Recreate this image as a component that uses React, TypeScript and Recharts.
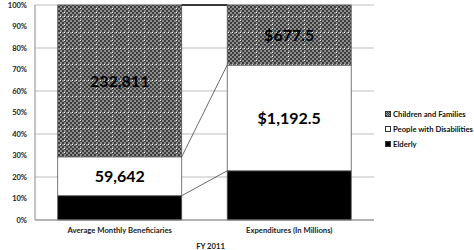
import { BarChart, Bar, XAxis, YAxis, CartesianGrid, LabelList } from 'recharts'

const CATEGORIES = ['Average Monthly Beneficiaries', 'Expenditures (In Millions)']
const ELDERLY = [37260, 555]
const DISABILITIES = [59642, 1192.5]
const CHILDREN = [232811, 677.5]
const Y_TICKS = [0, 0.1, 0.2, 0.3, 0.4, 0.5, 0.6, 0.7, 0.8, 0.9, 1]

const FONT = 'Lato, "Open Sans", sans-serif'

const fmt = (v: number, i: number) =>
  i === 0 ? v.toLocaleString('en-US') : '$' + v.toLocaleString('en-US', { minimumFractionDigits: 1, maximumFractionDigits: 1 })

const data = CATEGORIES.map((name, i) => ({
  name,
  elderly: ELDERLY[i],
  disabilities: DISABILITIES[i],
  children: CHILDREN[i],
  disabilitiesLabel: fmt(DISABILITIES[i], i),
  childrenLabel: fmt(CHILDREN[i], i),
}))

const SERIES = [
  { key: 'children', name: 'Children and Families', swatch: '#777' },
  { key: 'disabilities', name: 'People with Disabilities', swatch: '#fff' },
  { key: 'elderly', name: 'Elderly', swatch: '#000' },
]

// top-right corner of the first bar of each series, used to draw the series lines
const tops: Record<string, { x: number; y: number }> = {}

function makeShape(key: string, fill: string) {
  return (props: any) => {
    const { x, y, width, height, index } = props
    let line = null
    if (index === 0) {
      tops[key] = { x: x + width, y }
    } else if (tops[key]) {
      line = (
        <line
          x1={tops[key].x} y1={tops[key].y} x2={x} y2={y}
          stroke={key === 'children' ? '#000' : '#444'}
          strokeWidth={key === 'children' ? 1.5 : 0.8}
        />
      )
    }
    return (
      <g>
        <rect x={x} y={y} width={width} height={height} fill={fill} stroke="#555" strokeWidth={0.8} />
        {line}
      </g>
    )
  }
}

function LegendBox() {
  return (
    <div style={{ position: 'absolute', left: 385, top: 106, fontFamily: FONT, fontSize: 7.7, fontWeight: 700, color: '#111' }}>
      {SERIES.map((s) => (
        <div key={s.key} style={{ display: 'flex', alignItems: 'center', height: 15, whiteSpace: 'nowrap' }}>
          <span
            style={{
              width: 6, height: 6, marginRight: 2, display: 'inline-block', boxSizing: 'border-box',
              background: s.key === 'children' ? 'repeating-conic-gradient(#3d3d3d 0 25%, #999 0 50%) 0 0/2px 2px' : s.swatch,
              border: '0.5px solid #333',
            }}
          />
          {s.name}
        </div>
      ))}
    </div>
  )
}

export default function App() {
  return (
    <div style={{ position: 'absolute', left: 0, top: 0, width: 474, height: 250, background: '#fff' }}>
      <BarChart
        width={474}
        height={250}
        data={data}
        stackOffset="expand"
        barCategoryGap="13.4%"
        margin={{ top: 5, right: 100, left: 0, bottom: 0 }}
      >
        <defs>
          <pattern id="checker" width="16" height="16" patternUnits="userSpaceOnUse">
            <rect width="16" height="16" fill="#8c8c8c" />
            {[0, 4, 8, 12].map((px) =>
              [0, 4, 8, 12].map((py) => (
                <g key={px + '-' + py}>
                  <rect x={px} y={py} width="2" height="2" fill="#3d3d3d" />
                  <rect x={px + 2} y={py + 2} width="2" height="2" fill="#3d3d3d" />
                </g>
              ))
            )}
            {[0, 4, 8, 12].map((p) => (
              <g key={'d' + p}>
                <rect x={p} y={0} width="1" height="1" fill="#fff" />
                <rect x={0} y={p} width="1" height="1" fill="#fff" />
              </g>
            ))}
          </pattern>
        </defs>
        <CartesianGrid vertical={false} stroke="#bdbdbd" />
        <XAxis
          dataKey="name"
          height={30}
          tickSize={0}
          tickMargin={8}
          axisLine={{ stroke: '#8a8a8a' }}
          tick={{ fontSize: 7.7, fontWeight: 700, fill: '#222', fontFamily: FONT }}
          label={{ value: 'FY 2011', position: 'insideBottom', offset: 1, dx: 6, fontSize: 7.7, fontWeight: 700, fill: '#222', fontFamily: FONT }}
        />
        <YAxis
          width={35}
          ticks={Y_TICKS}
          domain={[0, 1]}
          tickSize={0}
          tickMargin={8}
          axisLine={{ stroke: '#8a8a8a' }}
          tickFormatter={(v: number) => `${Math.round(v * 100)}%`}
          tick={{ fontSize: 7.5, fontWeight: 700, fill: '#222', fontFamily: FONT }}
        />
        <Bar dataKey="elderly" stackId="a" name="Elderly" fill="#000" shape={makeShape('elderly', '#000')} isAnimationActive={false} />
        <Bar dataKey="disabilities" stackId="a" name="People with Disabilities" fill="#fff" shape={makeShape('disabilities', '#fff')} isAnimationActive={false}>
          <LabelList dataKey="disabilitiesLabel" position="center" fill="#000" fontSize={16} fontWeight={700} fontFamily={FONT} />
        </Bar>
        <Bar dataKey="children" stackId="a" name="Children and Families" fill="url(#checker)" shape={makeShape('children', 'url(#checker)')} isAnimationActive={false}>
          <LabelList dataKey="childrenLabel" position="center" fill="#000" fontSize={16} fontWeight={700} fontFamily={FONT} />
        </Bar>
      </BarChart>
      <LegendBox />
    </div>
  )
}
